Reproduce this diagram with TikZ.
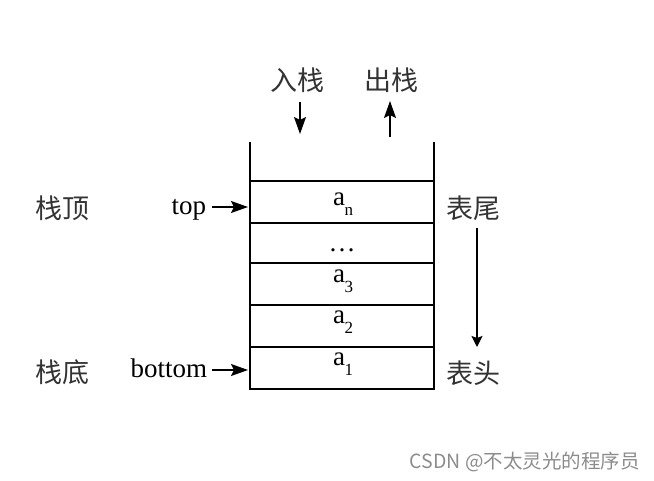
\documentclass[tikz,border=0pt]{standalone}
\usepackage{fontspec}
\setmainfont{Liberation Serif}
\newfontfamily\cjk{Noto Sans CJK SC}
\newfontfamily\wm{Noto Sans CJK SC}
\usetikzlibrary{arrows.meta}
\begin{document}
\begin{tikzpicture}[x=1pt,y=-1pt,
  line width=1.6pt,
  arr/.style={-{Stealth[length=17pt,width=12pt,inset=3pt]},line width=1.8pt},
  arrs/.style={-{Stealth[length=11pt,width=11pt,inset=2pt]},line width=1.8pt},
  cn/.style={font=\cjk\fontsize{27}{27}\selectfont,text=black!80,inner sep=0pt},
  tx/.style={font=\fontsize{27}{27}\selectfont,inner sep=0pt},
  el/.style={font=\fontsize{27}{27}\selectfont,inner sep=0pt,anchor=base},
  sub/.style={font=\fontsize{17}{17}\selectfont,inner sep=0pt,anchor=base west,xshift=-2pt,yshift=-10pt}]
\useasboundingbox (0,0) rectangle (654,480);
% stack walls
\coordinate (tl) at (250,142);
\coordinate (bl) at (250,389);
\coordinate (tr) at (434,142);
\coordinate (br) at (434,389);
\draw (tl) -- (bl) -- (br) -- (tr);
\foreach \y/\n in {181/l1,223/l2,263/l3,305/l4,347/l5}{
  \draw (250,\y) coordinate (\n a) -- (434,\y) coordinate (\n b);
}
% elements
\node[el] (an) at (339,205) {a};
\node[sub] (ann) at (an.base east) {n};
\node[el] (dots) at (342,251) {\dots};
\node[el] (a3) at (339,282) {a};
\node[sub] (a3s) at (a3.base east) {3};
\node[el] (a2) at (339,323) {a};
\node[sub] (a2s) at (a2.base east) {2};
\node[el] (a1) at (339,365) {a};
\node[sub] (a1s) at (a1.base east) {1};
% top labels
\node[cn] (in) at (297,80) {入栈};
\node[cn] (out) at (391,80) {出栈};
\coordinate (inA) at (300,102);
\coordinate (inB) at (300,134);
\coordinate (outA) at (390,137);
\coordinate (outB) at (390,101);
\draw[arr] (inA) -- (inB);
\draw[arr] (outA) -- (outB);
% left labels
\node[cn] (sd) at (62,208) {栈顶};
\node[cn] (sb) at (62,372) {栈底};
\node[tx,anchor=base east] (top) at (207,214) {top};
\node[tx,anchor=base east] (bot) at (208,377) {bottom};
\coordinate (ta) at (248,207);
\coordinate (ba) at (248,370);
\coordinate (ts) at (212,207);
\coordinate (bs) at (212,370);
\draw[arr] (ts) -- (ta);
\draw[arr] (bs) -- (ba);
% right labels
\node[cn] (bw) at (473,208) {表尾};
\node[cn] (bt) at (473,373) {表头};
\coordinate (ra) at (477,228);
\coordinate (rb) at (477,347);
\draw[arrs] (ra) -- (rb);
% watermark
\node[font=\wm\fontsize{19.5}{19.5}\selectfont,text=black!45,anchor=west,inner sep=0pt] (wmk) at (409,462) {CSDN @不太灵光的程序员};
\end{tikzpicture}
\end{document}
